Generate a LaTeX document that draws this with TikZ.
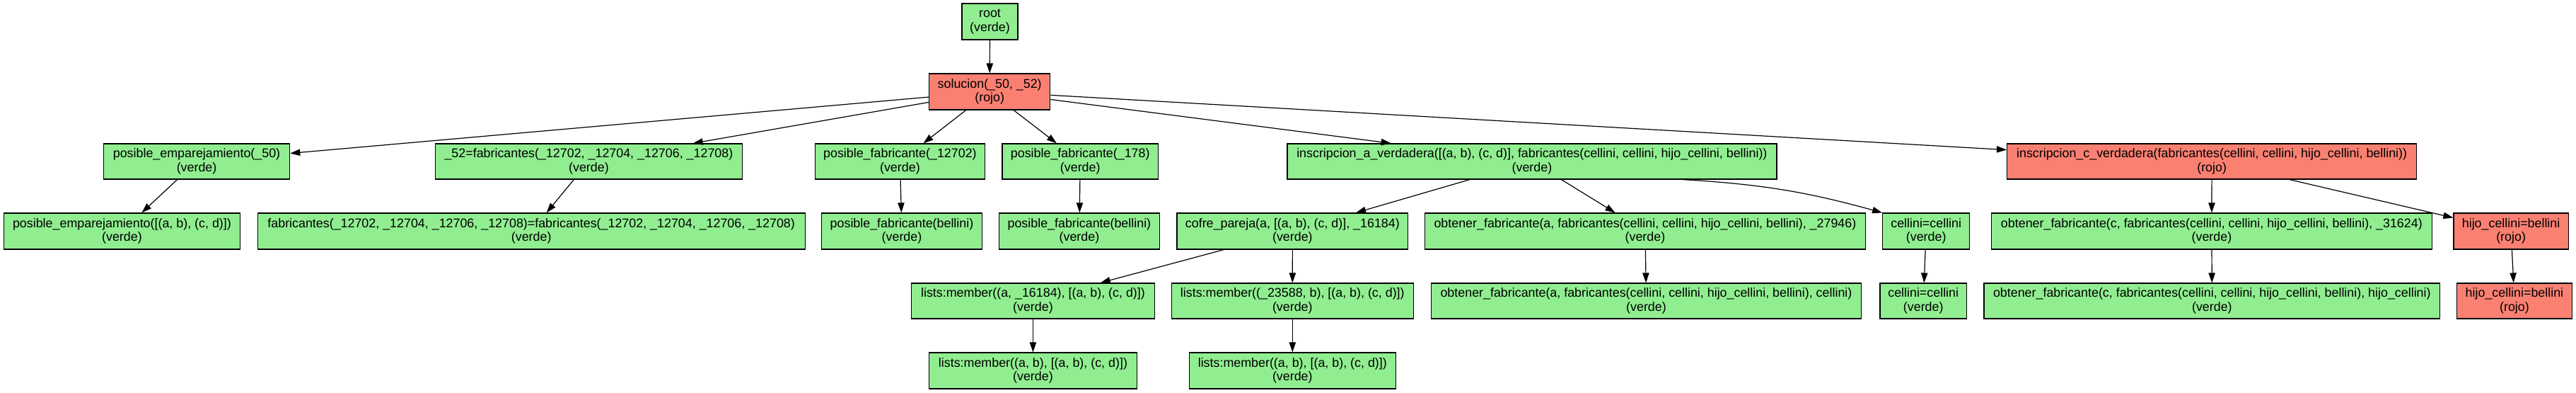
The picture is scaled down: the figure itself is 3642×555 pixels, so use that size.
\documentclass[tikz,border=0pt]{standalone}
\usepackage{fontspec}
\setmainfont{Liberation Sans}
\usetikzlibrary{arrows.meta,calc}
\definecolor{gvgreen}{HTML}{90EE90}
\definecolor{gvred}{HTML}{FA8072}
\newcommand\gvn[7]{\node[#1, minimum width={(#4-#2)*0.75pt}, minimum height={(#5-#3)*0.75pt}] (#7) at ({(#2+#4)/2},{(#3+#5)/2}) {#6};}
\begin{document}
\begin{tikzpicture}[x=0.75pt,y=-0.75pt,
  box/.style={draw=black, line width=0.9pt, inner sep=0pt, align=center, font=\fontsize{13.4}{14.5}\selectfont},
  ok/.style={box, fill=gvgreen},
  bad/.style={box, fill=gvred},
  edge/.style={draw=black, line width=0.9pt, -{Triangle[length=10.5pt,width=7pt]}}]
\useasboundingbox (0,0) rectangle (3642,555);
% level 0/1
\gvn{ok}{1360}{5}{1439}{56}{root\\(verde)}{root}
\gvn{bad}{1313.7}{104}{1484.7}{155}{solucion(\_50, \_52)\\(rojo)}{sol}
% level 2
\gvn{ok}{146.4}{203}{409.7}{253}{posible\_emparejamiento(\_50)\\(verde)}{pe}
\gvn{ok}{615.8}{203}{1049.1}{253}{\_52=fabricantes(\_12702, \_12704, \_12706, \_12708)\\(verde)}{fa}
\gvn{ok}{1152.4}{203}{1392.4}{253}{posible\_fabricante(\_12702)\\(verde)}{pfa}
\gvn{ok}{1417}{203}{1637.5}{253}{posible\_fabricante(\_178)\\(verde)}{pfb}
\gvn{ok}{1819.9}{203}{2511.9}{253}{inscripcion\_a\_verdadera([(a, b), (c, d)], fabricantes(cellini, cellini, hijo\_cellini, bellini))\\(verde)}{insa}
\gvn{bad}{2837.6}{203}{3416.7}{253}{inscripcion\_c\_verdadera(fabricantes(cellini, cellini, hijo\_cellini, bellini))\\(rojo)}{insc}
% level 3
\gvn{ok}{5.1}{301}{339.8}{352}{posible\_emparejamiento([(a, b), (c, d)])\\(verde)}{pel}
\gvn{ok}{364.3}{301}{1138.1}{352}{fabricantes(\_12702, \_12704, \_12706, \_12708)=fabricantes(\_12702, \_12704, \_12706, \_12708)\\(verde)}{faeq}
\gvn{ok}{1161.6}{301}{1388.4}{352}{posible\_fabricante(bellini)\\(verde)}{pfba}
\gvn{ok}{1412.5}{301}{1639.3}{352}{posible\_fabricante(bellini)\\(verde)}{pfbb}
\gvn{ok}{1663.9}{301}{1990.8}{352}{cofre\_pareja(a, [(a, b), (c, d)], \_16184)\\(verde)}{cofre}
\gvn{ok}{2014.4}{301}{2637.5}{352}{obtener\_fabricante(a, fabricantes(cellini, cellini, hijo\_cellini, bellini), \_27946)\\(verde)}{obta}
\gvn{ok}{2661.7}{301}{2784.7}{352}{cellini=cellini\\(verde)}{cca}
\gvn{ok}{2815.4}{301}{3438.4}{352}{obtener\_fabricante(c, fabricantes(cellini, cellini, hijo\_cellini, bellini), \_31624)\\(verde)}{obtc}
\gvn{bad}{3469}{301}{3631.2}{352}{hijo\_cellini=bellini\\(rojo)}{hija}
% level 4
\gvn{ok}{1288.8}{400}{1632.1}{450}{lists:member((a, \_16184), [(a, b), (c, d)])\\(verde)}{lma}
\gvn{ok}{1656.1}{400}{1998.5}{450}{lists:member((\_23588, b), [(a, b), (c, d)])\\(verde)}{lmb}
\gvn{ok}{2023.5}{400}{2631.5}{450}{obtener\_fabricante(a, fabricantes(cellini, cellini, hijo\_cellini, bellini), cellini)\\(verde)}{obta2}
\gvn{ok}{2657.9}{400}{2780.5}{450}{cellini=cellini\\(verde)}{ccb}
\gvn{ok}{2804.9}{400}{3449.8}{450}{obtener\_fabricante(c, fabricantes(cellini, cellini, hijo\_cellini, bellini), hijo\_cellini)\\(verde)}{obtc2}
\gvn{bad}{3473.5}{400}{3636.4}{450}{hijo\_cellini=bellini\\(rojo)}{hijb}
% level 5
\gvn{ok}{1313.8}{498}{1607.1}{549}{lists:member((a, b), [(a, b), (c, d)])\\(verde)}{lma2}
\gvn{ok}{1681.1}{498}{1973.5}{549}{lists:member((a, b), [(a, b), (c, d)])\\(verde)}{lmb2}
% edges
\draw[edge] (root) -- (sol);
\draw[edge] (sol) -- (pe);
\draw[edge] (sol) -- (fa);
\draw[edge] (sol) -- (pfa);
\draw[edge] (sol) -- (pfb);
\draw[edge] (sol) -- (insa);
\draw[edge] (sol) -- (insc);
\draw[edge] (pe) -- (pel);
\draw[edge] (fa) -- (faeq);
\draw[edge] (pfa) -- (pfba);
\draw[edge] (pfb) -- (pfbb);
\draw[edge] (insa) -- (cofre);
\draw[edge] (insa) -- (obta);
\draw[edge] ($(insa.south west)!0.808!(insa.south east)$) to[bend left=6] (cca.north west);
\draw[edge] (insc) -- (obtc);
\draw[edge] (insc) -- (hija);
\draw[edge] (cofre) -- (lma);
\draw[edge] (cofre) -- (lmb);
\draw[edge] (obta) -- (obta2);
\draw[edge] (cca) -- (ccb);
\draw[edge] (obtc) -- (obtc2);
\draw[edge] (hija) -- (hijb);
\draw[edge] (lma) -- (lma2);
\draw[edge] (lmb) -- (lmb2);
\end{tikzpicture}
\end{document}
